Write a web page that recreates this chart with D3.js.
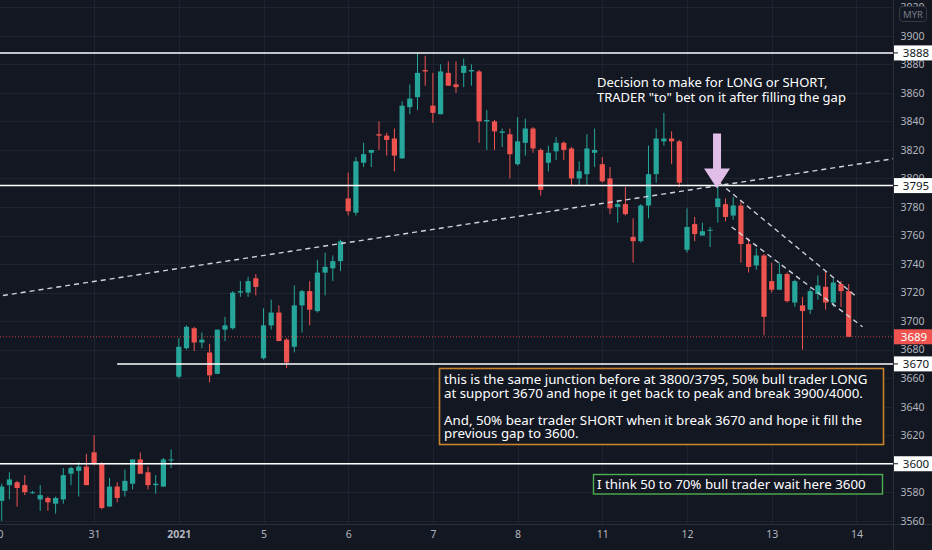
<!DOCTYPE html>
<html>
<head>
<meta charset="utf-8">
<title>FCPO 30m</title>
<script src="https://d3js.org/d3.v7.min.js"></script>
<style>
  body { margin: 0; background: #131722; }
  svg { display: block; font-family: "Noto Sans", sans-serif; }
</style>
</head>
<body>
<svg id="chart" width="932" height="550"></svg>
<script>
// time axis: bar index where each day label sits
var dayLabels = ["30", "31", "2021", "5", "6", "7", "8", "11", "12", "13", "14"];
var dayStart = [-0.6, 12, 23, 34, 45, 56, 67, 78, 89, 100, 111];

// 30 min candles
var opens = [3574,3585,3587,3585,3580,3575,3576,3572,3575,3593,3595,3598,3608,3600,3570,3584,3581,3586,3603,3594,3585,3584,3603,
  3661,3681,3695,3685,3678,3663,3694,3695,3720,3720,3730,
  3674,3697,3706,3687,3682,3711,3721,3707,3734,3737,3742,
  3786,3776,3811,3818,3831,3830,3828,3814,3850,3857,
  3876,3851,3845,3874,3866,3874,3875,3875,3840,3840,3832,3831,
  3810,3825,3835,3820,3811,3819,3825,3821,3800,3803,3818,
  3810,3800,3780,3782,3759,3756,3781,3803,3826,3828,3826,
  3750,3768,3760,3764,3780,3782,3774,3781,3754,3739,3746,
  3728,3722,3733,3713,3711,3708,3719,3724,3713,3726,3721];
var highs = [3586,3594,3588,3592,3581,3585,3577,3577,3597,3598,3601,3607,3620,3601,3590,3587,3596,3603,3608,3598,3592,3604,3610,
  3688,3697,3696,3692,3684,3694,3703,3721,3728,3731,3733,
  3709,3715,3711,3688,3725,3722,3728,3743,3748,3746,3757,
  3804,3815,3825,3820,3840,3832,3835,3854,3866,3888,
  3886,3874,3880,3882,3882,3884,3880,3876,3848,3841,3835,3835,
  3843,3842,3836,3821,3823,3829,3826,3822,3812,3831,3835,
  3815,3808,3785,3794,3772,3782,3823,3835,3846,3833,3827,
  3779,3773,3769,3766,3797,3786,3787,3784,3758,3751,3747,
  3741,3741,3734,3729,3717,3723,3732,3735,3730,3728,3726];
var lows = [3560,3575,3570,3578,3579,3567,3567,3565,3572,3585,3577,3585,3599,3568,3570,3573,3577,3582,3593,3582,3579,3584,3597,
  3660,3680,3679,3681,3657,3663,3686,3694,3717,3717,3718,
  3673,3694,3686,3667,3678,3692,3697,3706,3718,3728,3735,
  3774,3774,3808,3808,3820,3816,3805,3814,3845,3848,
  3865,3839,3845,3865,3860,3864,3865,3825,3820,3820,3822,3800,
  3809,3816,3818,3788,3805,3813,3813,3795,3795,3795,3808,
  3797,3775,3769,3774,3741,3755,3772,3797,3823,3810,3794,
  3748,3756,3760,3752,3769,3770,3771,3741,3734,3736,3690,
  3720,3722,3713,3710,3680,3705,3715,3708,3710,3710,3689];
var closes = [3584,3589,3583,3580,3580,3578,3573,3576,3592,3597,3598,3585,3600,3569,3584,3576,3588,3603,3593,3585,3586,3603,3603,
  3682,3696,3685,3687,3662,3694,3697,3720,3721,3728,3724,
  3697,3706,3686,3671,3711,3721,3708,3734,3738,3742,3756,
  3777,3812,3817,3820,3830,3827,3816,3851,3856,3874,
  3875,3846,3875,3865,3864,3879,3876,3840,3841,3833,3833,3817,
  3826,3835,3821,3792,3818,3825,3820,3800,3805,3821,3820,
  3798,3779,3782,3775,3756,3781,3803,3828,3828,3826,3797,
  3766,3761,3763,3764,3786,3773,3781,3754,3738,3746,3703,
  3722,3733,3714,3728,3707,3721,3725,3713,3727,3721,3689];

// price axis
var priceTicks = [3560,3580,3600,3620,3640,3660,3680,3700,3720,3740,3760,3780,3800,3820,3840,3860,3880,3900,3920];
var levels = [3888, 3795, 3670, 3600];
var levelFrom = [-2, -2, 15, -2];
var lastPrice = 3689;

// dashed trend lines (bar index, price)
var trendBars = [[-1, 116], [92.3, 110.8], [94.8, 111.8]];
var trendPrices = [[3717, 3814], [3801, 3718], [3766, 3696]];

// notes
var noteTop = ["Decision to make for LONG or SHORT,", "TRADER \"to\" bet on it after filling the gap"];
var noteBox = ["this is the same junction before at 3800/3795, 50% bull trader LONG",
  "at support 3670 and hope it get back to peak and break 3900/4000.",
  "",
  "And, 50% bear trader SHORT when it break 3670 and hope it fill the",
  "previous gap to 3600."];
var noteGreen = "I think 50 to 70% bull trader wait here 3600";

var plotW = 893, plotH = 524;
var up = "#26a69a", down = "#ef5350";

var svg = d3.select("#chart");
var x = d3.scaleLinear().domain([0, 110]).range([1.7, 848.7]);
var y = d3.scaleLinear().domain([3560, 3900]).range([520.8, 35.8]);

svg.append("rect").attr("width", 932).attr("height", 550).attr("fill", "#131722");
svg.append("clipPath").attr("id", "plot").append("rect").attr("width", plotW).attr("height", plotH);

var g = svg.append("g").attr("clip-path", "url(#plot)");

// grid
g.selectAll(".hg").data(priceTicks).join("line")
  .attr("x1", 0).attr("x2", plotW)
  .attr("y1", (d) => Math.round(y(d)) + 0.5).attr("y2", (d) => Math.round(y(d)) + 0.5)
  .attr("stroke", "#1f2330");
g.selectAll(".vg").data(dayStart).join("line")
  .attr("x1", (d) => Math.round(x(d)) + 0.5).attr("x2", (d) => Math.round(x(d)) + 0.5)
  .attr("y1", 0).attr("y2", plotH)
  .attr("stroke", "#1f2330");

// candles
var idx = d3.range(opens.length);
g.selectAll(".wick").data(idx).join("line")
  .attr("x1", (i) => x(i)).attr("x2", (i) => x(i))
  .attr("y1", (i) => y(highs[i])).attr("y2", (i) => y(lows[i]))
  .attr("stroke", (i) => closes[i] >= opens[i] ? up : down)
  .attr("stroke-width", 1);
g.selectAll(".body").data(idx).join("rect")
  .attr("x", (i) => x(i) - 2.6)
  .attr("width", 5.2)
  .attr("y", (i) => y(Math.max(opens[i], closes[i])))
  .attr("height", (i) => Math.max(1, Math.abs(y(opens[i]) - y(closes[i]))))
  .attr("fill", (i) => closes[i] >= opens[i] ? up : down);

// last price dotted line
g.append("line")
  .attr("x1", 0).attr("x2", plotW)
  .attr("y1", y(lastPrice)).attr("y2", y(lastPrice))
  .attr("stroke", down).attr("stroke-opacity", 0.75)
  .attr("stroke-dasharray", "1,2");

// horizontal levels
g.selectAll(".lvl").data(levels).join("line")
  .attr("x1", (d, i) => x(levelFrom[i])).attr("x2", plotW)
  .attr("y1", (d) => y(d)).attr("y2", (d) => y(d))
  .attr("stroke", "#ffffff").attr("stroke-width", 1.5);

// trend lines
var line = d3.line().x((d) => x(d[0])).y((d) => y(d[1]));
g.selectAll(".trend").data(trendBars).join("path")
  .attr("d", (b, i) => line([[b[0], trendPrices[i][0]], [b[1], trendPrices[i][1]]]))
  .attr("fill", "none")
  .attr("stroke", "#d1d4dc")
  .attr("stroke-width", 1.4)
  .attr("stroke-dasharray", "5,4");

// arrow pointing at the 3795 touch
var ax = x(92.9), ay = y(3793);
g.append("path")
  .attr("d", "M" + (ax - 4) + "," + (ay - 55) + "h8v35h9l-13,20l-13,-20h9z")
  .attr("fill", "#e1bee7");

// notes
g.append("text")
  .attr("x", 597).attr("y", 87)
  .attr("fill", "#ffffff").attr("font-size", 13)
  .selectAll("tspan").data(noteTop).join("tspan")
  .attr("x", 597).attr("dy", (d, i) => i ? 14.5 : 0)
  .text((d) => d);

g.append("rect")
  .attr("x", 439.5).attr("y", 368.5).attr("width", 444).attr("height", 76)
  .attr("fill", "#131722").attr("stroke", "#c9822e").attr("stroke-width", 1.6);
// one text per line, the empty line only leaves a gap
g.selectAll(".boxline").data(noteBox.map((t, i) => ({ t: t, i: i })).filter((d) => d.t)).join("text")
  .attr("x", 444).attr("y", (d) => 384 + d.i * 13.6)
  .attr("fill", "#ffffff").attr("font-size", 13.3)
  .text((d) => d.t);

g.append("rect")
  .attr("x", 593.5).attr("y", 474.5).attr("width", 289).attr("height", 19.5)
  .attr("fill", "#131722").attr("stroke", "#4caf50").attr("stroke-width", 1.4);
g.append("text")
  .attr("x", 597).attr("y", 489)
  .attr("fill", "#ffffff").attr("font-size", 13.3)
  .text(noteGreen);

// axis panels
svg.append("line").attr("x1", plotW + 0.5).attr("x2", plotW + 0.5).attr("y1", 0).attr("y2", 550)
  .attr("stroke", "#2a2e39");
svg.append("line").attr("x1", 0).attr("x2", 932).attr("y1", plotH + 0.5).attr("y2", plotH + 0.5)
  .attr("stroke", "#2a2e39");

// tick labels that sit exactly under a level tag are not shown
var axisTicks = priceTicks.filter((p) => levels.indexOf(p) < 0);
var yAxis = svg.append("g")
  .attr("transform", "translate(" + plotW + ",0)")
  .call(d3.axisRight(y).tickValues(axisTicks).tickSize(0).tickFormat(d3.format("d")));
yAxis.select(".domain").remove();
yAxis.selectAll("text")
  .attr("x", 19.5).attr("text-anchor", "middle")
  .attr("fill", "#b2b5be").attr("font-size", 10.5)
  .attr("font-family", "Noto Sans, sans-serif");

var xAxis = svg.append("g")
  .attr("transform", "translate(0," + plotH + ")")
  .call(d3.axisBottom(x).tickValues(dayStart).tickSize(0).tickPadding(7)
    .tickFormat((d, i) => dayLabels[i]));
xAxis.select(".domain").remove();
xAxis.selectAll("text")
  .attr("fill", "#b2b5be").attr("font-size", 10.5)
  .attr("font-family", "Noto Sans, sans-serif")
  .attr("font-weight", (d, i) => dayLabels[i] === "2021" ? "bold" : "normal");

// level tags on price axis
var tags = svg.append("g");
levels.forEach(function (p) {
  tags.append("rect").attr("x", plotW + 1).attr("y", y(p) - 7.5).attr("width", 39).attr("height", 15)
    .attr("fill", "#ffffff");
  tags.append("line").attr("x1", plotW + 1).attr("x2", plotW + 5).attr("y1", y(p)).attr("y2", y(p))
    .attr("stroke", "#131722");
  tags.append("text").attr("x", plotW + 23).attr("y", y(p) + 4)
    .attr("text-anchor", "middle").attr("font-size", 11.5).attr("fill", "#131722")
    .text(p);
});
tags.append("rect").attr("x", plotW + 1).attr("y", y(lastPrice) - 7.5).attr("width", 39).attr("height", 15)
  .attr("fill", down);
tags.append("text").attr("x", plotW + 21).attr("y", y(lastPrice) + 4)
  .attr("text-anchor", "middle").attr("font-size", 11.5).attr("fill", "#ffffff")
  .text(lastPrice);

// currency badge
svg.append("rect").attr("x", 899.5).attr("y", 6.5).attr("width", 27).attr("height", 15).attr("rx", 3)
  .attr("fill", "#131722").attr("stroke", "#363a45");
svg.append("text").attr("x", 913).attr("y", 17.5).attr("text-anchor", "middle")
  .attr("font-size", 9.5).attr("fill", "#787b86").text("MYR");
</script>
</body>
</html>
